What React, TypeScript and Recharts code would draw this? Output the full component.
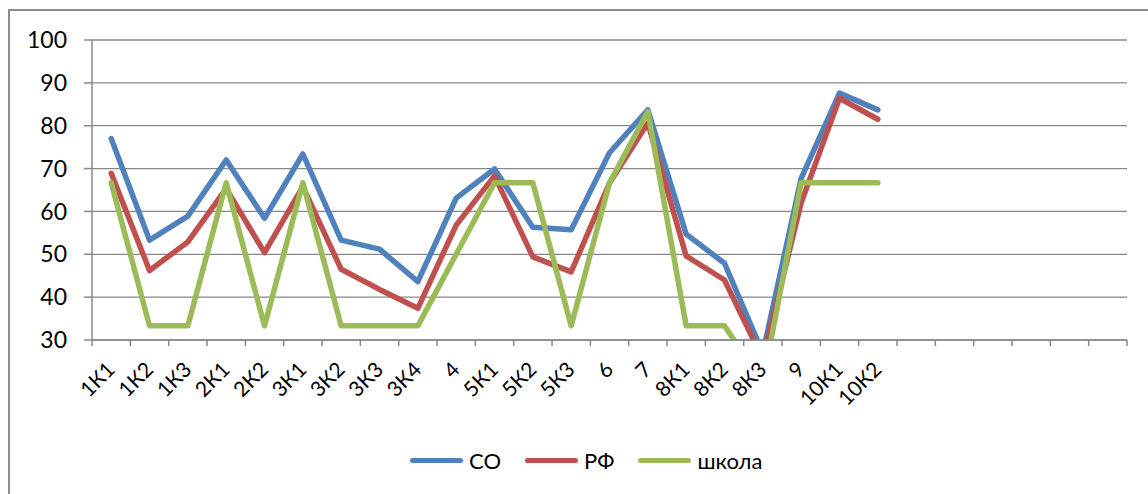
import React from 'react';
import { LineChart, Line, XAxis, YAxis, CartesianGrid, Legend } from 'recharts';

const categories = ["1К1", "1К2", "1К3", "2К1", "2К2", "3К1", "3К2", "3К3", "3К4", "4", "5К1", "5К2", "5К3", "6", "7", "8К1", "8К2", "8К3", "9", "10К1", "10К2", "", "", "", "", "", ""];

const soValues = [77, 53.3, 58.9, 72, 58.4, 73.4, 53.3, 51.2, 43.6, 63.1, 69.9, 56.3, 55.7, 73.7, 83.7, 54.7, 47.9, 27, 67.7, 87.6, 83.7];
const rfValues = [68.9, 46.2, 52.9, 65.3, 50.4, 65.8, 46.5, 41.8, 37.4, 56.8, 68.3, 49.4, 45.9, 66.6, 80.6, 49.6, 44, 25.5, 62, 86.4, 81.5];
const schoolValues = [66.7, 33.3, 33.3, 66.7, 33.3, 66.7, 33.3, 33.3, 33.3, 50, 66.7, 66.7, 33.3, 66.7, 83.3, 33.3, 33.3, 20, 66.7, 66.7, 66.7];

const yTicks = [30, 40, 50, 60, 70, 80, 90, 100];

const series = [
  { key: "so", label: "СО", color: "#4F81BD" },
  { key: "rf", label: "РФ", color: "#C0504D" },
  { key: "school", label: "школа", color: "#9BBB59" },
];

const data = categories.map((cat, i) => ({
  cat,
  so: soValues[i] ?? null,
  rf: rfValues[i] ?? null,
  school: schoolValues[i] ?? null,
}));

const GRID = "#888888";
// half a category slot, so points sit in the middle of each slot like Excel does
const HALF_SLOT = 19.2;

function XTick({ x, y, payload, index }: any) {
  return (
    <g>
      {/* Excel puts the tick marks between the categories */}
      {index === 0 && (
        <line x1={x - HALF_SLOT} x2={x - HALF_SLOT} y1={y} y2={y + 6} stroke={GRID} strokeWidth={1.5} />
      )}
      <line x1={x + HALF_SLOT} x2={x + HALF_SLOT} y1={y} y2={y + 6} stroke={GRID} strokeWidth={1.5} />
      {payload?.value ? (
        <g transform={`translate(${x + 5},${y + 31})`}>
          <text textAnchor="end" transform="rotate(-45)" fontSize={21} fill="#000">
            {payload.value}
          </text>
        </g>
      ) : null}
    </g>
  );
}

function LegendBox() {
  return (
    <div style={{ display: "flex", alignItems: "center", height: 30, fontFamily: "Lato", fontSize: 22, color: "#000" }}>
      {series.map((s) => (
        <div key={s.key} style={{ display: "flex", alignItems: "center", marginRight: 24 }}>
          <span style={{ width: 53, height: 5, borderRadius: 3, background: s.color, marginRight: 6 }} />
          <span>{s.label}</span>
        </div>
      ))}
    </div>
  );
}

export default function App() {
  return (
    <div style={{ position: "absolute", left: 0, top: 0, width: 1148, height: 494, overflow: "hidden", background: "#fff" }}>
      {/* outer chart frame */}
      <div style={{ position: "absolute", left: 8, top: 9, width: 1300, height: 700, border: "2px solid #8c8c8c" }} />
      <LineChart
        width={1148}
        height={494}
        data={data}
        margin={{ top: 40, right: 21, left: 0, bottom: 19 }}
        style={{ position: "absolute", left: 0, top: 0, fontFamily: "Lato" }}
      >
        <CartesianGrid horizontal vertical={false} stroke={GRID} strokeWidth={1.3} />
        <XAxis
          dataKey="cat"
          type="category"
          interval={0}
          padding={{ left: HALF_SLOT, right: HALF_SLOT }}
          axisLine={{ stroke: GRID, strokeWidth: 1.5 }}
          tickLine={false}
          tickSize={0}
          tickMargin={0}
          height={105}
          tick={<XTick />}
        />
        <YAxis
          domain={[30, 100]}
          ticks={yTicks}
          allowDataOverflow
          width={92}
          tickSize={8}
          tickMargin={17}
          axisLine={{ stroke: GRID, strokeWidth: 1.5 }}
          tickLine={{ stroke: GRID, strokeWidth: 1.5 }}
          tick={{ fontSize: 23, fill: "#000" }}
        />
        <Legend verticalAlign="bottom" height={30} content={<LegendBox />} wrapperStyle={{ left: 410, width: 400 }} />
        {series.map((s) => (
          <Line
            key={s.key}
            type="linear"
            dataKey={s.key}
            name={s.label}
            stroke={s.color}
            strokeWidth={5.5}
            strokeLinejoin="round"
            strokeLinecap="round"
            dot={false}
            activeDot={false}
            connectNulls={false}
            isAnimationActive={false}
          />
        ))}
      </LineChart>
    </div>
  );
}
